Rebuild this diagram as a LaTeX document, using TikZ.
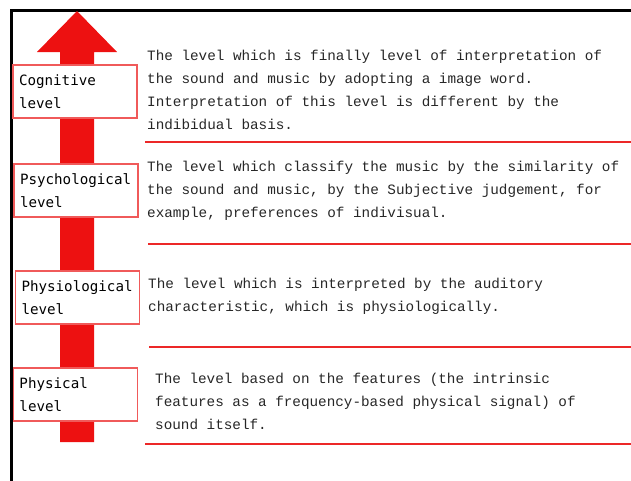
\documentclass[tikz,border=0pt]{standalone}
\usepackage{fontspec}
\newfontfamily\labelfont{DejaVu Sans Mono}
\newfontfamily\descfont{Liberation Mono}
\definecolor{arrowred}{RGB}{237,17,17}
\definecolor{boxred}{RGB}{240,90,90}
\definecolor{rulered}{RGB}{236,40,40}

\begin{document}
\begin{tikzpicture}[x=1pt, y=-1pt, every node/.style={inner sep=0pt}, level/.style={draw=boxred, line width=1.2pt, fill=white, minimum width=124pt, minimum height=53pt, text width=112pt, inner xsep=6pt, align=left, font=\labelfont\fontsize{14.2}{23}\selectfont}, desc/.style={anchor=north west, align=left, font=\descfont\fontsize{14.3}{23}\selectfont, text=black!85}, sep/.style={draw=rulered, line width=2pt}]
\useasboundingbox (0,0) rectangle (631,480);
% frame
\draw[line width=3pt] (11,482) -- (11,10) -- (633,10);
% big arrow
\fill[arrowred] (60,442) -- (94,442) -- (94,52) -- (117,52) -- (77,11) -- (37,52) -- (60,52) -- cycle;
% level boxes
\node[level] (cognitive) at (75,91.5) {Cognitive\\level};
\node[level] (psychological) at (76,190.5) {Psychological\\level};
\node[level] (physiological) at (77.5,297.5) {Physiological\\level};
\node[level] (physical) at (75.5,394.5) {Physical\\level};
% descriptions
\node[desc] (cogtext) at (147,50) {The level which is finally level of interpretation of\\the sound and music by adopting a image word.\\Interpretation of this level is different by the\\indibidual basis.};
\node[desc] (psytext) at (147,161) {The level which classify the music by the similarity of\\the sound and music, by the Subjective judgement, for\\example, preferences of indivisual.};
\node[desc] (phytext) at (148,278) {The level which is interpreted by the auditory\\characteristic, which is physiologically.};
\node[desc] (phystext) at (155,373) {The level based on the features (the intrinsic\\features as a frequency-based physical signal) of\\sound itself.};
% separators
\draw[sep] (145,142) -- (631,142);
\draw[sep] (148,244) -- (631,244);
\draw[sep] (149,347) -- (631,347);
\draw[sep] (145,444) -- (631,444);
\end{tikzpicture}
\end{document}
